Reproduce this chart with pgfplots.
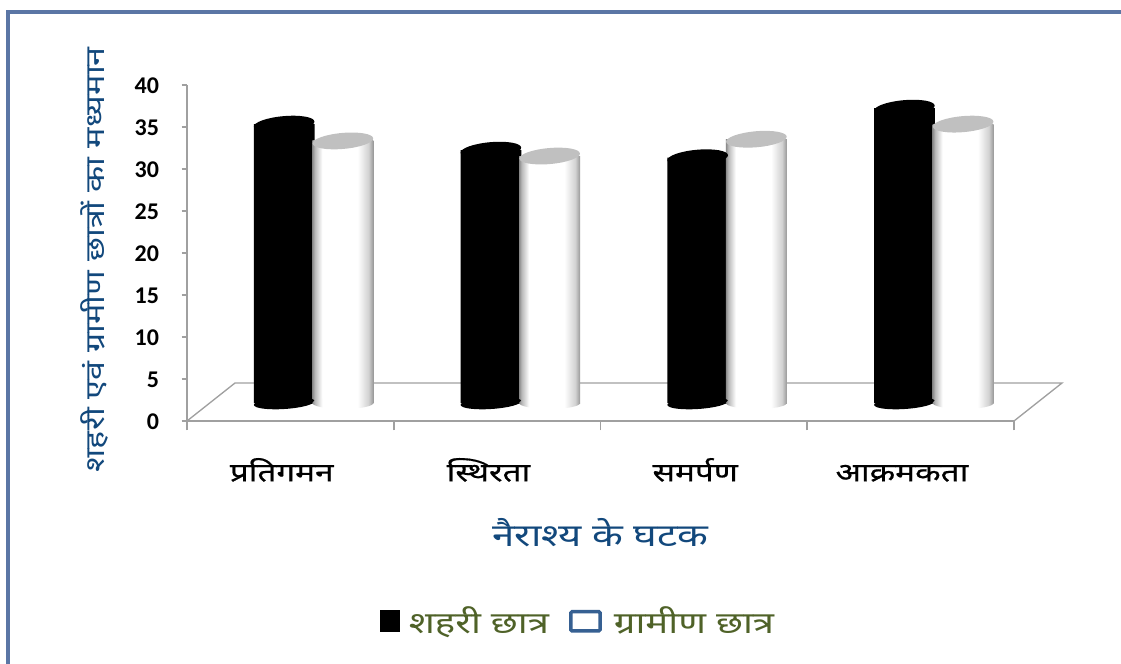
\documentclass[border=0pt]{standalone}
\usepackage{fontspec}
\usepackage{pgfplots}
\usepackage{pgfplotstable}
\pgfplotsset{compat=1.18}
\setmainfont{Carlito}
\newfontfamily\hi[Script=Devanagari,FakeStretch=1.28]{Noto Sans}
\newfontfamily\hib[Script=Devanagari,FakeStretch=1.28,FakeBold=0.6]{Noto Sans}
\definecolor{axisgray}{RGB}{160,160,160}
\definecolor{framecol}{RGB}{91,118,165}
\definecolor{titleblue}{RGB}{18,72,124}
\definecolor{legolive}{RGB}{79,98,40}
\definecolor{legblue}{RGB}{54,96,146}
\definecolor{capgray}{RGB}{192,192,192}
\pgfdeclarehorizontalshading{cylw}{100bp}{
  color(0bp)=(gray!90); color(25bp)=(gray!90); color(27bp)=(gray!55); color(33bp)=(white); color(62bp)=(white); color(71bp)=(gray!35); color(75bp)=(gray!80); color(100bp)=(gray!80)}
\pgfdeclareplotmark{capk}{\pgftransformrotate{5}\pgfsetfillcolor{black}\pgfpathellipse{\pgfpointorigin}{\pgfqpoint{22.8pt}{0pt}}{\pgfqpoint{0pt}{6pt}}\pgfusepathqfill}
\pgfdeclareplotmark{capw}{\pgftransformrotate{5}\pgfsetfillcolor{capgray}\pgfpathellipse{\pgfpointorigin}{\pgfqpoint{22.8pt}{0pt}}{\pgfqpoint{0pt}{6pt}}\pgfusepathqfill}
\pgfdeclareplotmark{botw}{\pgfpathellipse{\pgfpointorigin}{\pgfqpoint{22.8pt}{0pt}}{\pgfqpoint{0pt}{4.5pt}}\pgfshadepath{cylw}{0}\pgfusepath{discard}}
\pgfplotstableread{
x y
-0.03 33.2
0.97 30.1
1.97 29.2
2.97 35.1
}\urban
\pgfplotstableread{
x y
0.254 31.2
1.254 29.4
2.254 31.4
3.254 33.2
}\rural
\pgfplotstableread{
x y
-0.03 0
0.97 0
1.97 0
2.97 0
}\urbanbase
\pgfplotstableread{
x y
0.254 0
1.254 0
2.254 0
3.254 0
}\ruralbase
\begin{document}
\begin{tikzpicture}
\path[use as bounding box] (0,0) rectangle (840.75pt,498pt);
\draw[framecol,line width=2.4pt] (6pt,0pt) -- (6pt,489pt) -- (840.75pt,489pt);
\begin{axis}[
  at={(140.25pt,182.25pt)},anchor=south west,
  scale only axis,width=620.25pt,height=252pt,
  xmin=-0.5,xmax=3.5,ymin=0,ymax=40,
  clip=false,
  axis lines=left,
  axis line style={-,axisgray,line width=1.3pt},
  tick align=outside,
  xtick={-0.5,0.5,1.5,2.5,3.5},xticklabels={},
  ytick={0,5,...,40},
  xtick style={axisgray,line width=1.3pt,/pgfplots/major tick length=7pt},
  ytick style={axisgray,line width=1.3pt,/pgfplots/major tick length=4pt},
  /pgf/number format/assume math mode=true,
  yticklabel style={font=\fontsize{18}{18}\selectfont\bfseries,text=black,xshift=-13.2pt,yshift=-0.5pt},
  extra x ticks={0,1,2,3},
  extra x tick labels={{\hib प्रतिगमन},{\hib स्थिरता},{\hib समर्पण},{\hib आक्रमकता}},
  extra x tick style={
    xtick style={draw=none,/pgfplots/major tick length=0pt},
    xticklabel style={font=\fontsize{19.5}{20}\selectfont,text=black,anchor=base,xshift=-6.5pt,yshift=-41pt},
  },
  legend style={at={(0.473,-0.595)},anchor=center,draw=none,fill=none,
    legend columns=2,font=\fontsize{22.5}{24}\selectfont\hi,text=legolive,
    /tikz/column 1/.style={column sep=5pt},
    /tikz/column 2/.style={column sep=13pt},
    /tikz/column 3/.style={column sep=7pt}},
  legend cell align=left,
  xlabel={\hi नैराश्य के घटक},
  xlabel style={font=\fontsize{23.5}{25}\selectfont,text=titleblue,at={(axis description cs:0.5,-0.331)},anchor=center},
  ylabel={\hi शहरी एवं ग्रामीण छात्रों का मध्यमान},
  ylabel style={font=\fontsize{20}{22}\selectfont,text=titleblue,rotate=0,at={(axis description cs:-0.112,0.48)},anchor=center},
]
\addplot[axisgray,line width=1pt,forget plot] coordinates {(-0.5,0) (-0.268,4.52) (3.732,4.52) (3.5,0)};
% urban cylinders
\addplot[only marks,mark=capk,yshift=13.5pt,forget plot,mark options={yscale=0.75}] table[x=x,y=y] {\urbanbase};
\addplot[ybar,bar width=45.6pt,draw=none,fill=black,yshift=13.5pt,
  legend image code/.code={\fill[black] (0pt,-22pt) rectangle (15pt,-5pt);}] table[x=x,y=y] {\urban};
\addlegendentry{शहरी छात्र}
\addplot[only marks,mark=capk,yshift=13.5pt,forget plot] table[x=x,y=y] {\urban};
% rural cylinders, one plot per bar so each has its own shading
\addplot[only marks,mark=botw,yshift=13.5pt,forget plot] table[x=x,y=y] {\ruralbase};
\addplot[ybar,bar width=45.6pt,draw=none,shading=cylw,yshift=13.5pt,
  legend image code/.code={\draw[shade=false,legblue,line width=2.6pt,fill=white,rounded corners=1pt] (0pt,-21pt) rectangle (22pt,-6.5pt);}] coordinates {(0.254,31.2)};
\addlegendentry{ग्रामीण छात्र}
\addplot[ybar,bar width=45.6pt,draw=none,shading=cylw,yshift=13.5pt,forget plot] coordinates {(1.254,29.4)};
\addplot[ybar,bar width=45.6pt,draw=none,shading=cylw,yshift=13.5pt,forget plot] coordinates {(2.254,31.4)};
\addplot[ybar,bar width=45.6pt,draw=none,shading=cylw,yshift=13.5pt,forget plot] coordinates {(3.254,33.2)};
\addplot[only marks,mark=capw,yshift=13.5pt,forget plot] table[x=x,y=y] {\rural};
\end{axis}
\end{tikzpicture}
\end{document}
